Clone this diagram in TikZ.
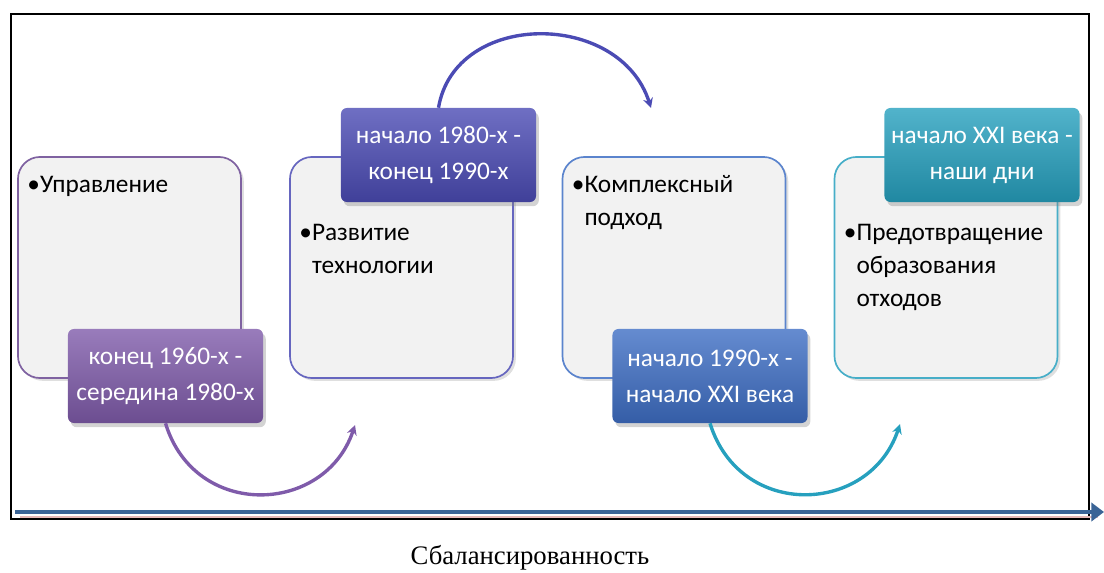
\documentclass[tikz,border=0pt]{standalone}
\usepackage{fontspec}
\setmainfont{Carlito}
\newfontfamily\legende{Liberation Serif}
\usepackage{xcolor}
\usetikzlibrary{arrows.meta}
\usetikzlibrary{shadows}

\definecolor{fond}{HTML}{F2F2F2}
\definecolor{violetA}{HTML}{7F5BAA}
\definecolor{indigoA}{HTML}{4B4BB4}
\definecolor{bleuA}{HTML}{3E6EC4}
\definecolor{turqA}{HTML}{26A0BE}
\definecolor{axe}{HTML}{3A6496}
\definecolor{rose}{HTML}{E6B9B8}

\begin{document}
\begin{tikzpicture}[x=0.025cm, y=-0.025cm,
    stage/.style={draw=#1, fill=fond, line width=1.2pt, rounded corners=0.55cm,
        minimum width=5.575cm, minimum height=5.525cm, inner sep=0pt,
        drop shadow={opacity=0.25, shadow xshift=2pt, shadow yshift=-2pt}},
    period/.style={rounded corners=0.15cm, top color=#1!80!white, bottom color=#1!85!black,
        text=white, align=center, font=\fontsize{18}{25.6}\selectfont,
        minimum width=4.875cm, minimum height=2.35cm, inner sep=0pt,
        drop shadow={opacity=0.35, shadow xshift=2pt, shadow yshift=-3pt}},
    item/.style={anchor=base west, inner sep=0pt, text width=5.2cm, align=left,
        font=\fontsize{18}{23.5}\selectfont},
    linkarrow/.style={draw=#1, line width=2.4pt, -{Stealth[length=7pt,width=7pt]}}]
    \useasboundingbox (0,0) rectangle (1104,572);
    % cadre
    \draw[line width=1.4pt] (11,14) rectangle (1089,519);

    \node[stage=violetA!80!gray] (box1) at (129.5,267.5) {};
    \node[stage=indigoA!85!white] (box2) at (401.5,267.5) {};
    \node[stage=bleuA!85!white] (box3) at (674,267.5) {};
    \node[stage=turqA!85!white] (box4) at (946,267.5) {};

    \node[item] (txt1) at ([shift={(10,36)}]box1.north west) {•Управление};
    \node[item] (txt2) at ([shift={(10,84)}]box2.north west) {•Развитие\\\hphantom{•}технологии};
    \node[item] (txt3) at ([shift={(10,36)}]box3.north west) {•Комплексный\\\hphantom{•}подход};
    \node[item] (txt4) at ([shift={(10,84)}]box4.north west) {•Предотвращение\\\hphantom{•}образования\\\hphantom{•}отходов};

    \node[period=violetA] (per1) at (165.5,376) {конец 1960-х -\\середина 1980-х};
    \node[period=indigoA] (per2) at (438.5,155) {начало 1980-х -\\конец 1990-х};
    \node[period=bleuA] (per3) at (710,376) {начало 1990-х -\\начало XXI века};
    \node[period=turqA] (per4) at (982,155) {начало XXI века -\\наши дни};

    \coordinate (end1) at (355,425);
    \coordinate (end2) at (651,108);
    \coordinate (end3) at (900,424);
    \draw[linkarrow=violetA] (per1.south) .. controls (195,520) and (325,515) .. (end1);
    \draw[linkarrow=indigoA] (per2.north) .. controls (455,10) and (620,10) .. (end2);
    \draw[linkarrow=turqA] (per3.south) .. controls (740,520) and (870,515) .. (end3);

    % axe du temps
    \coordinate (axeG) at (15,512);
    \coordinate (axeD) at (1104,512);
    \coordinate (roseG) at (20,517);
    \coordinate (roseD) at (1098,517);
    \draw[rose, line width=2pt] (roseG) -- (roseD);
    \draw[axe, line width=2.2pt, -{Triangle[length=9pt,width=13pt]}] (axeG) -- (axeD);

    \node[font=\legende\fontsize{19}{22}\selectfont, anchor=base] (titre) at (530,564) {Сбалансированность};
\end{tikzpicture}
\end{document}
